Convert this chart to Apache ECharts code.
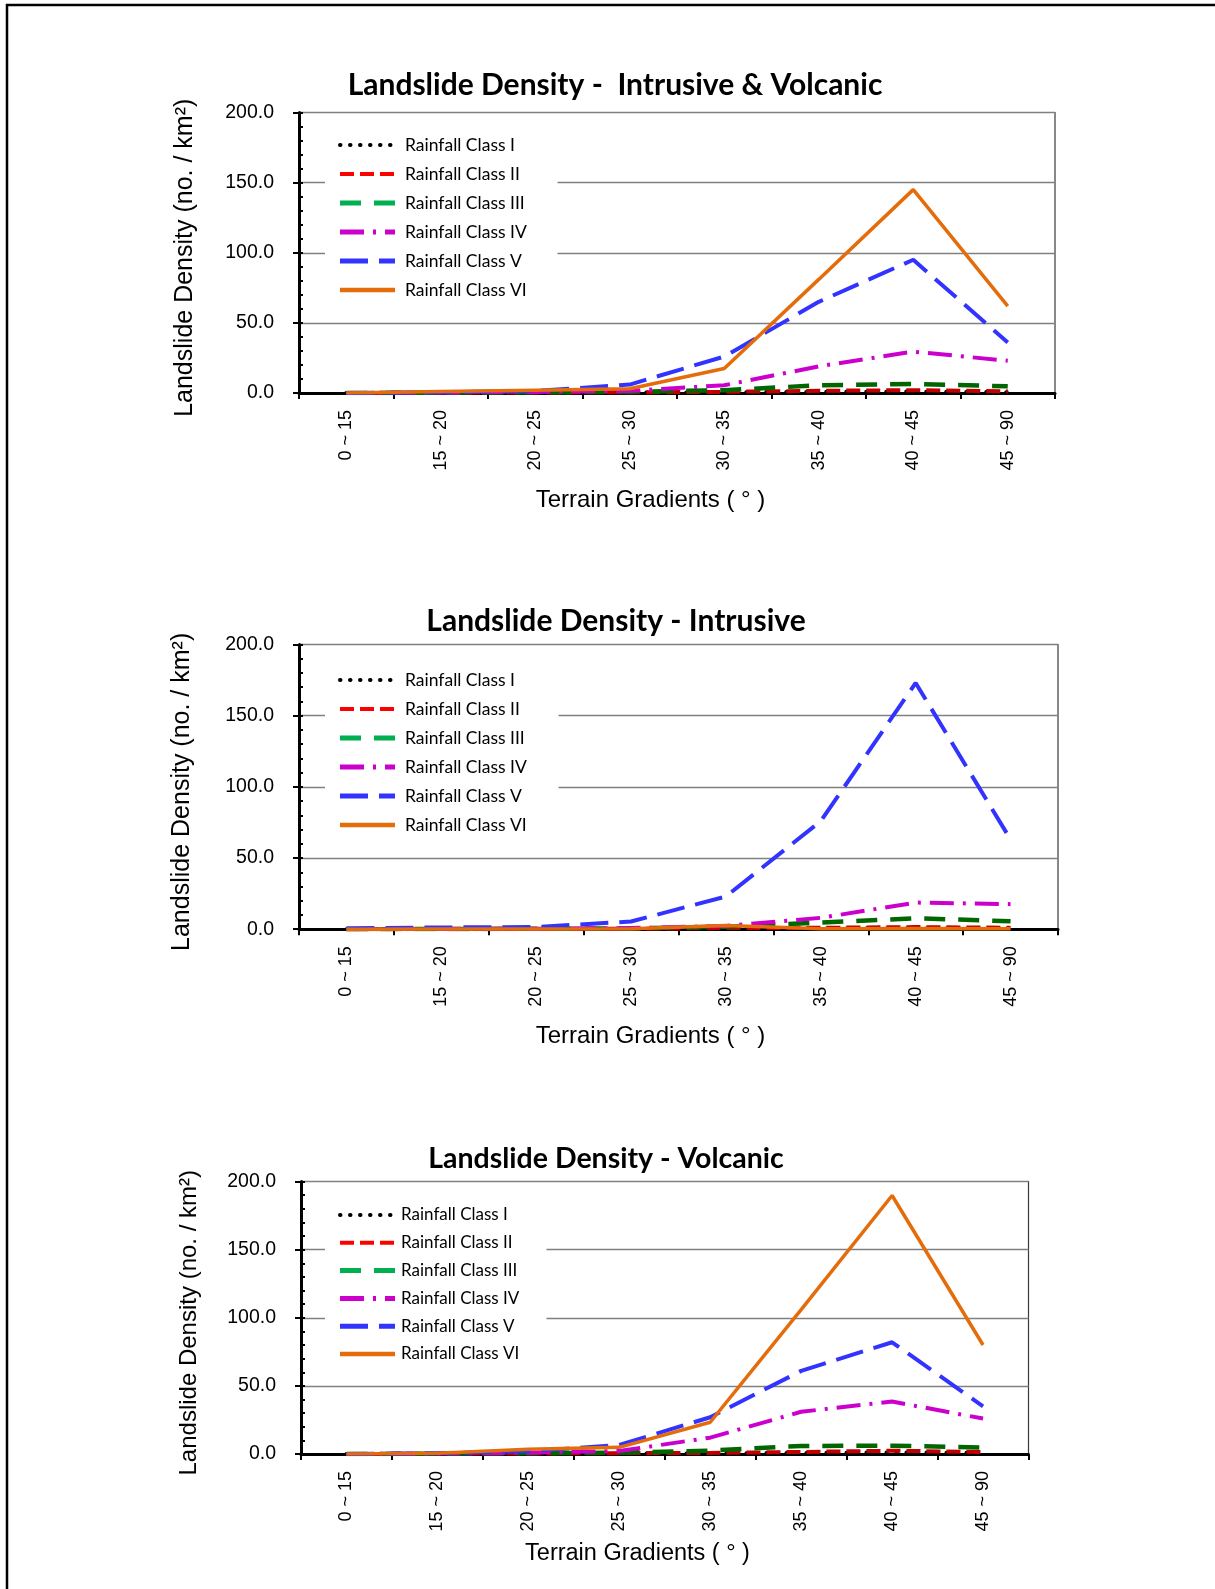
<!DOCTYPE html>
<html>
<head>
<meta charset="utf-8">
<script src="https://cdn.jsdelivr.net/npm/echarts@6/dist/echarts.min.js"></script>
<style>
  html, body { margin: 0; padding: 0; background: #fff; }
  #chart { width: 1215px; height: 1589px; }
</style>
</head>
<body>
<div id="chart"></div>
<script>
// Terrain gradient classes (degrees) on the category axis
const gradients = ['0 ~ 15', '15 ~ 20', '20 ~ 25', '25 ~ 30', '30 ~ 35', '35 ~ 40', '40 ~ 45', '45 ~ 90'];
const classNames = ['Rainfall Class I', 'Rainfall Class II', 'Rainfall Class III',
                    'Rainfall Class IV', 'Rainfall Class V', 'Rainfall Class VI'];
const yTickValues = [0, 50, 100, 150, 200];

// Landslide density (no./km2), intrusive & volcanic terrain combined
const bothI   = [0, 0.1, 0.2, 0.3, 0.5, 0.8, 1.0, 0.6];
const bothII  = [0, 0.2, 0.4, 0.5, 0.8, 1.6, 2.0, 1.2];
const bothIII = [0, 0.2, 0.5, 0.8, 2.0, 5.5, 6.4, 4.8];
const bothIV  = [0, 0.3, 0.8, 1.5, 5.5, 19, 29.5, 23];
const bothV   = [0, 0.5, 1.5, 6.0, 26, 65, 95, 36];
const bothVI  = [0, 1.0, 2.0, 3.0, 17.5, 81, 145, 62];

// Intrusive terrain
const intrusiveI   = [0, 0, 0.1, 0.1, 0.3, 0.4, 0.5, 0.3];
const intrusiveII  = [0, 0.1, 0.2, 0.3, 0.8, 1.0, 1.5, 1.0];
const intrusiveIII = [0, 0.1, 0.3, 0.5, 1.8, 4.7, 7.7, 5.6];
const intrusiveIV  = [0, 0.2, 0.4, 0.8, 2.3, 8.0, 18.7, 17.6];
const intrusiveV   = [0.7, 1.2, 1.6, 5.4, 23, 76, 173, 63];
const intrusiveVI  = [0, 0.1, 0.2, 0.3, 2.6, 0.4, 0.5, 0.3];

// Volcanic terrain
const volcanicI   = [0, 0.1, 0.2, 0.3, 0.5, 0.8, 1.2, 0.8];
const volcanicII  = [0, 0.2, 0.4, 0.6, 0.8, 1.5, 2.4, 1.5];
const volcanicIII = [0, 0.2, 0.5, 1.0, 2.5, 5.9, 6.1, 4.7];
const volcanicIV  = [0, 0.3, 1.0, 2.2, 12, 31, 38.5, 26];
const volcanicV   = [0, 0.5, 2.0, 6.6, 27, 61, 82, 35];
const volcanicVI  = [0, 0.5, 3.4, 4.9, 23.3, 106, 189.7, 80];

// Line appearance per rainfall class
const lineColors   = ['#000000', '#c00000', '#006600', '#cc00cc', '#3333ff', '#e46c0a'];
const legendColors = ['#000000', '#ff0000', '#00b050', '#cc00cc', '#3333ff', '#e46c0a'];
const lineWidths   = [4, 4, 4.5, 4, 4, 3.5];
const legendWidths = [4, 4, 5, 5, 5, 4.5];
const lineDashes   = [[0.5, 9.5], [14, 6], [21, 13], [24, 9, 3, 9], [28, 11], 'solid'];
const lineCaps     = ['round', 'butt', 'butt', 'butt', 'butt', 'butt'];

const panels = [
  {
    title: 'Landslide Density -  Intrusive & Volcanic', titleX: 615, titleY: 85, titleSize: 30,
    left: 299, top: 112.5, width: 756, height: 280.5,
    yTitleX: 185.5, yTitleSize: 25, xTitleX: 650.5, xTitleY: 500.6, xTitleSize: 24,
    legendTop: 126, legendGap: 11, legendRight: 555, textPad: 5, legendFont: 17.5,
    series: [bothI, bothII, bothIII, bothIV, bothV, bothVI]
  },
  {
    title: 'Landslide Density - Intrusive', titleX: 616, titleY: 621, titleSize: 30,
    left: 299, top: 644.5, width: 759, height: 284.7,
    yTitleX: 182.5, yTitleSize: 25, xTitleX: 650.5, xTitleY: 1036.6, xTitleSize: 24,
    legendTop: 661, legendGap: 11, legendRight: 556, textPad: 5, legendFont: 17.5,
    series: [intrusiveI, intrusiveII, intrusiveIII, intrusiveIV, intrusiveV, intrusiveVI]
  },
  {
    title: 'Landslide Density - Volcanic', titleX: 606, titleY: 1159, titleSize: 28.5,
    left: 301, top: 1181.5, width: 727.5, height: 272.5,
    yTitleX: 189.5, yTitleSize: 24, xTitleX: 637.5, xTitleY: 1553.4, xTitleSize: 23.5,
    legendTop: 1196.5, legendGap: 10.8, legendRight: 544, textPad: 1, legendFont: 17,
    series: [volcanicI, volcanicII, volcanicIII, volcanicIV, volcanicV, volcanicVI]
  }
];

// width of the longest legend entry, used to size the white legend panel
const measureCtx = document.createElement('canvas').getContext('2d');
function widestLabel(fontSize) {
  measureCtx.font = fontSize + 'px Lato';
  return Math.max.apply(null, classNames.map(n => measureCtx.measureText(n).width));
}

const chart = echarts.init(document.getElementById('chart'), null, { renderer: 'canvas' });

const grids = [], xAxes = [], yAxes = [], series = [], legends = [], graphics = [];
const legendLeft = 325, legendPadLeft = 12.5, iconW = 55;

panels.forEach((p, i) => {
  grids.push({
    left: p.left, top: p.top, width: p.width, height: p.height,
    show: true, borderColor: '#3a3a3a', borderWidth: 1.2, backgroundColor: 'transparent'
  });
  xAxes.push({
    type: 'category', gridIndex: i, data: gradients, boundaryGap: true,
    axisLine: { lineStyle: { color: '#000', width: 3 } },
    axisTick: { show: true, length: 6, alignWithLabel: false, lineStyle: { color: '#000', width: 2 } },
    axisLabel: { rotate: 90, margin: 17, color: '#000', fontFamily: 'Liberation Sans', fontSize: 18, interval: 0 },
    splitLine: { show: false }
  });
  // main value axis with labels and grid lines
  yAxes.push({
    type: 'value', gridIndex: i, min: yTickValues[0], max: yTickValues[yTickValues.length - 1],
    interval: yTickValues[1] - yTickValues[0],
    axisLine: { show: true, lineStyle: { color: '#000', width: 3 } },
    axisTick: { show: true, length: 6, lineStyle: { color: '#000', width: 2 } },
    axisLabel: { margin: 25, color: '#000', fontFamily: 'Liberation Sans', fontSize: 19.5,
                 formatter: v => v.toFixed(1) },
    splitLine: { show: true, lineStyle: { color: '#808080', width: 1.3 } }
  });
  // minor ticks drawn inside the plot every 10 units
  yAxes.push({
    type: 'value', gridIndex: i, min: 0, max: 200, interval: 10, position: 'left',
    axisLine: { show: false },
    axisTick: { show: true, inside: true, length: 4, lineStyle: { color: '#000', width: 2 } },
    axisLabel: { show: false },
    splitLine: { show: false }
  });

  p.series.forEach((vals, k) => {
    series.push({
      name: classNames[k], type: 'line', xAxisIndex: i, yAxisIndex: i * 2,
      data: vals, symbol: 'none', smooth: false, z: 2 + k,
      itemStyle: { color: lineColors[k] },
      lineStyle: { color: lineColors[k], width: lineWidths[k], type: lineDashes[k], cap: lineCaps[k] }
    });
  });

  const textW = widestLabel(p.legendFont);
  const padRight = Math.max(0, p.legendRight - legendLeft - legendPadLeft - iconW - 5 - p.textPad - textW);
  legends.push({
    orient: 'vertical', left: legendLeft, top: p.legendTop,
    itemWidth: iconW, itemHeight: 14, itemGap: p.legendGap,
    padding: [10, padRight, 10, legendPadLeft],
    backgroundColor: '#ffffff',
    selectedMode: false,
    textStyle: { color: '#000', fontFamily: 'Lato', fontSize: p.legendFont, padding: [0, 0, 0, p.textPad] },
    data: classNames.map((n, k) => ({
      name: n,
      itemStyle: { opacity: 0 },
      lineStyle: { color: legendColors[k], width: legendWidths[k], type: lineDashes[k], cap: lineCaps[k], opacity: 1 }
    }))
  });

  graphics.push({
    type: 'text', x: p.titleX, y: p.titleY, z: 10,
    style: { text: p.title, fill: '#000', font: 'bold ' + p.titleSize + 'px Lato', align: 'center', verticalAlign: 'middle' }
  });
  graphics.push({
    type: 'text', x: p.yTitleX, y: p.top + p.height / 2 + 5, rotation: Math.PI / 2, z: 10,
    style: { text: 'Landslide Density (no. / km²)', fill: '#000', font: p.yTitleSize + 'px "Liberation Sans"',
             align: 'center', verticalAlign: 'middle' }
  });
  graphics.push({
    type: 'text', x: p.xTitleX, y: p.xTitleY, z: 10,
    style: { text: 'Terrain Gradients ( ° )', fill: '#000', font: p.xTitleSize + 'px "Liberation Sans"',
             align: 'center', verticalAlign: 'middle' }
  });
});

// page frame along the left and top edges
graphics.push({
  type: 'polyline', z: 10,
  shape: { points: [[7, 1589], [7, 5], [1215, 5]] },
  style: { stroke: '#000', lineWidth: 2.5, fill: null }
});

chart.setOption({
  animation: false,
  backgroundColor: '#ffffff',
  grid: grids,
  xAxis: xAxes,
  yAxis: yAxes,
  legend: legends,
  series: series,
  graphic: graphics
});
</script>
</body>
</html>
